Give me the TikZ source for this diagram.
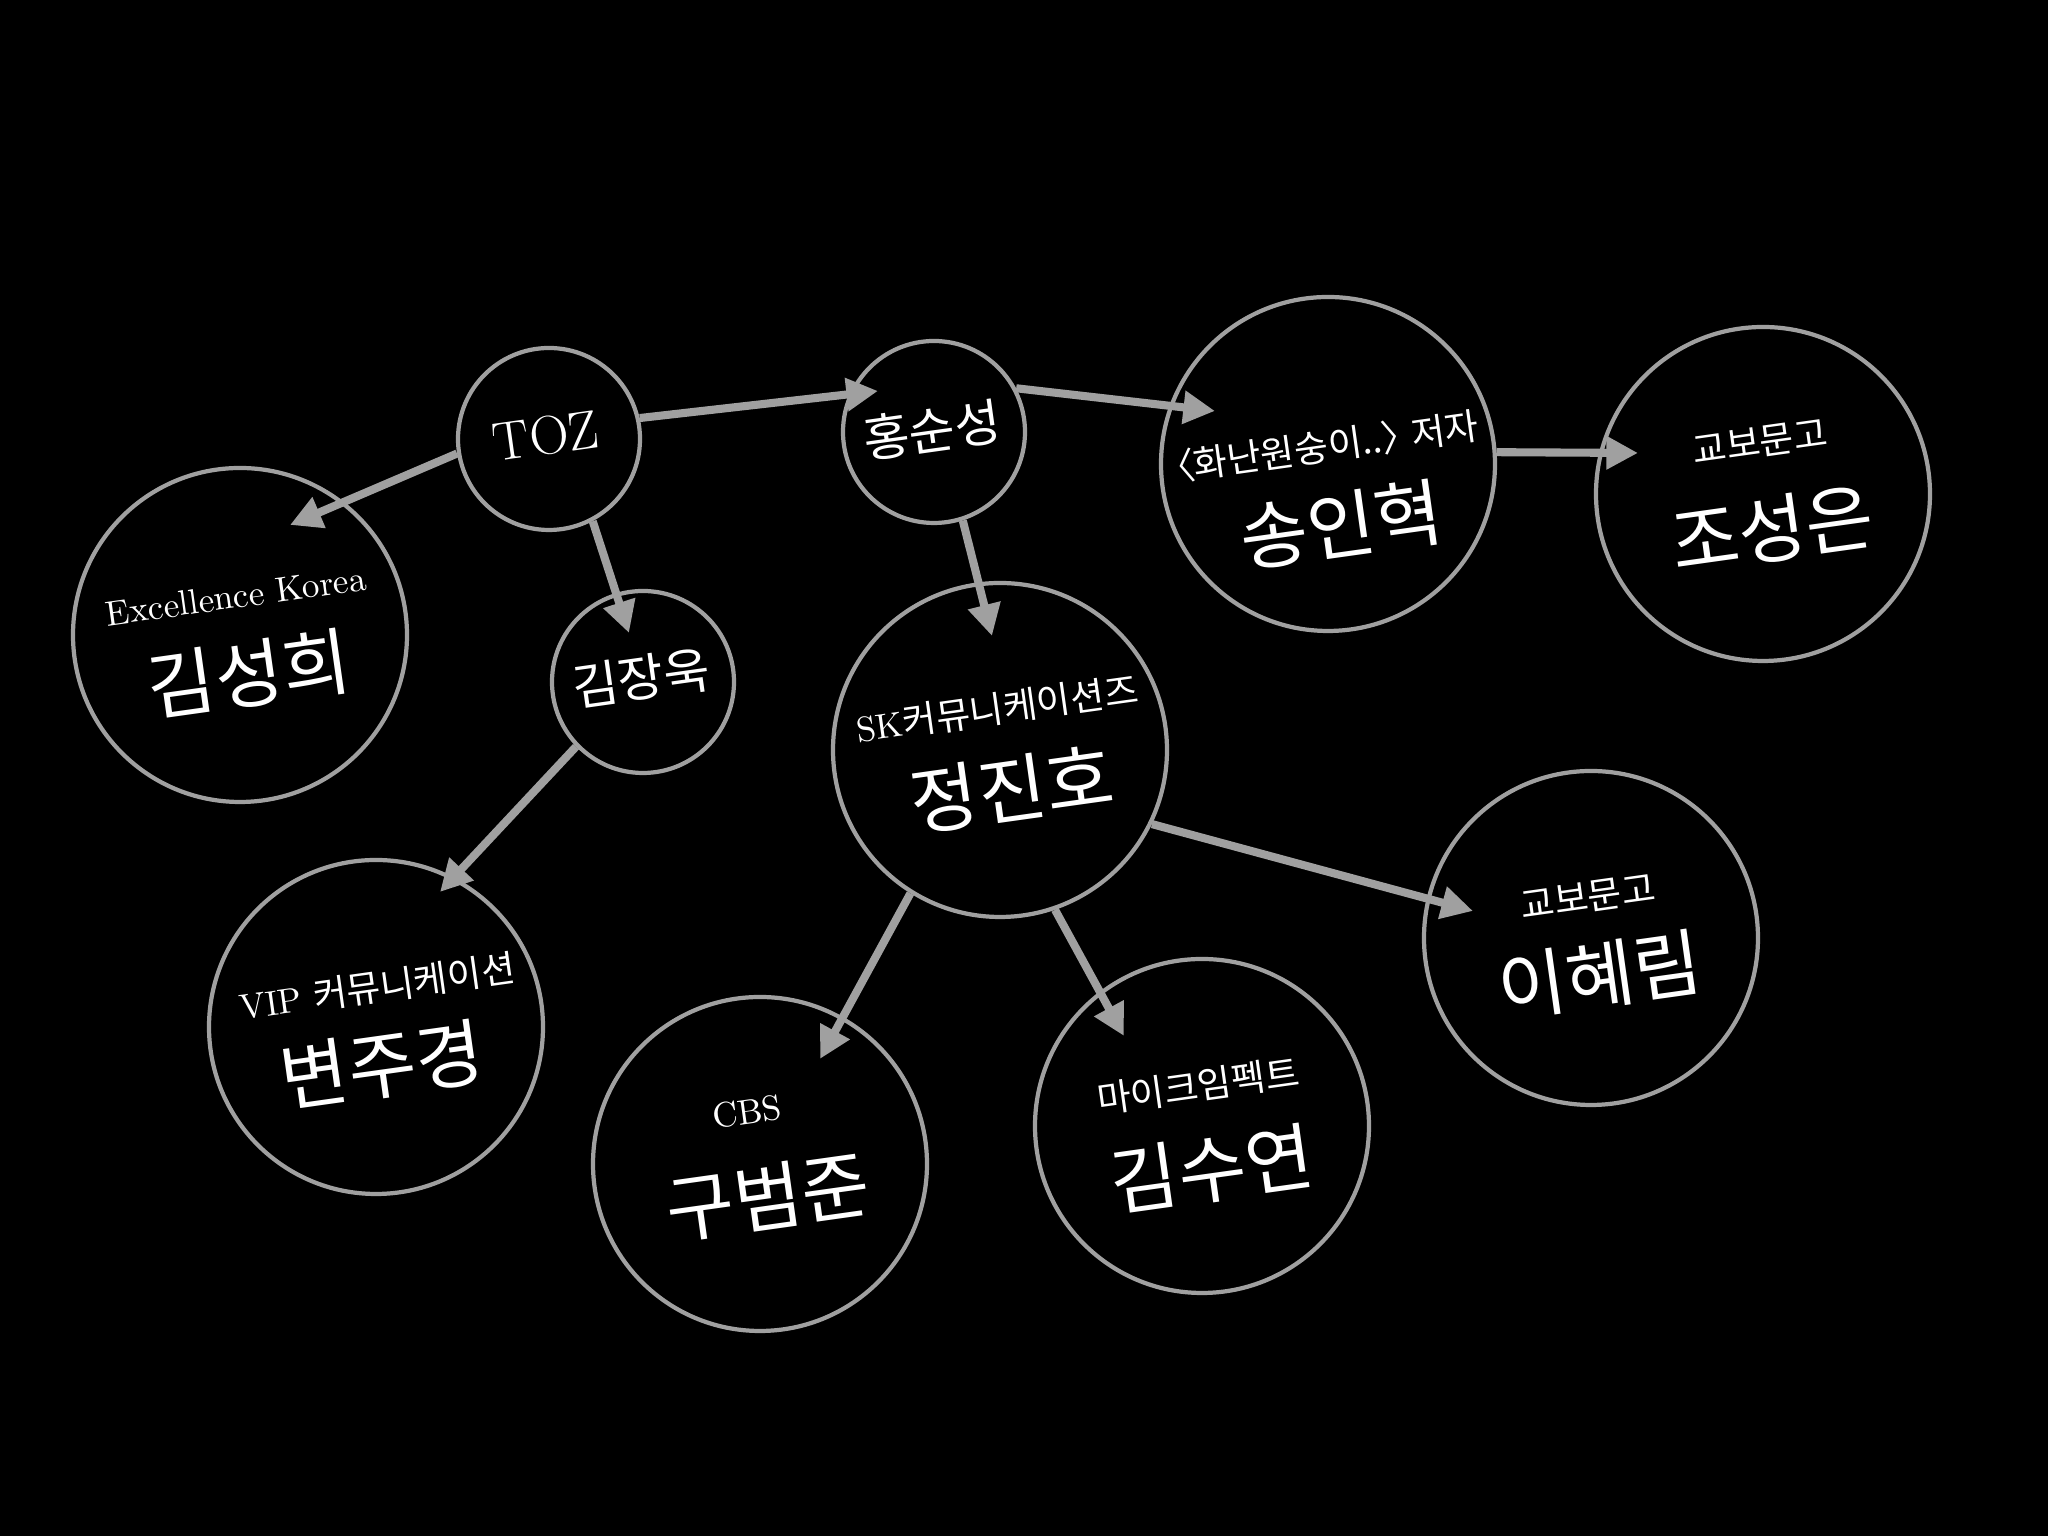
\documentclass[tikz,border=0pt]{standalone}
\usepackage{fontspec}
\newfontfamily\krfont[Scale=1.05]{Noto Sans CJK KR}
\usetikzlibrary{arrows.meta,calc}
\definecolor{ringgray}{RGB}{160,160,160}

\begin{document}
\begin{tikzpicture}
% ---------------------------------------------------------
% Dimensions (tweak freely)
% ---------------------------------------------------------
\def\PageW{20.48}    % picture width
\def\PageH{15.36}    % picture height
\def\BigD{3.34}      % diameter of the large circles
\def\SmallD{1.82}    % diameter of the small circles
\def\Tilt{8}         % all texts lean a bit upwards

% ---------------------------------------------------------
% Styles
% ---------------------------------------------------------
\tikzset{
  big person/.style={circle, draw=ringgray, fill=black, line width=1.2pt,
    minimum size=\BigD cm, inner sep=0pt},
  small person/.style={circle, draw=ringgray, fill=black, line width=1.2pt,
    minimum size=\SmallD cm, inner sep=0pt},
  link/.style={draw=ringgray, line width=2.3pt,
    -{Triangle[length=9pt, width=9pt]}},
  name text/.style={text=white, inner sep=0pt, rotate=\Tilt,
    font=\fontsize{20}{22}\selectfont\krfont},
  sub text/.style={text=white, inner sep=0pt, rotate=\Tilt,
    font=\fontsize{10}{12}\selectfont},
  small text/.style={text=white, inner sep=0pt, rotate=\Tilt,
    font=\fontsize{15.5}{17}\selectfont},
  small kr text/.style={small text, font=\fontsize{13.6}{15}\selectfont\krfont}
}

% =========================================================
% 1) BACKGROUND
% =========================================================
\useasboundingbox (0,0) rectangle (\PageW,\PageH);
\fill[black] (0,0) rectangle (\PageW,\PageH);

% =========================================================
% 2) CIRCLES
% =========================================================
\node[small person] (toz)   at (5.49, 10.97) {};
\node[small person] (hong)  at (9.34, 11.04) {};
\node[small person] (kimju) at (6.43, 8.54) {};

\node[big person] (song)  at (13.28, 10.72) {};
\node[big person] (cho)   at (17.63, 10.42) {};
\node[big person] (kimsh) at (2.40, 9.01) {};
\node[big person] (jung)  at (10.00, 7.86) {};
\node[big person] (byun)  at (3.76, 5.09) {};
\node[big person] (koo)   at (7.60, 3.72) {};
\node[big person] (kimsy) at (12.02, 4.10) {};
\node[big person] (lee)   at (15.91, 5.98) {};

% =========================================================
% 3) TEXTS
% =========================================================
\node[small text]    (toz-t)   at (5.46, 11.00) {TOZ};
\node[small kr text] (hong-t)  at (9.32, 11.06) {홍순성};
\node[small kr text] (kimju-t) at (6.41, 8.58) {김장욱};

\node[sub text]  (kimsh-s) at (2.36, 9.40) {Excellence Korea};
\node[name text] (kimsh-n) at (2.49, 8.62) {김성희};

% half-width brackets here (palt), as in the original
\node[sub text]  (song-s) at (13.27, 10.90)
  {\krfont\addfontfeature{RawFeature=+palt}〈화난원숭이..〉 저자};
\node[name text] (song-n) at (13.41, 10.11) {송인혁};

\node[sub text]  (cho-s) at (17.60, 10.94) {\krfont 교보문고};
\node[name text] (cho-n) at (17.72, 10.07) {조성은};

\node[sub text]  (jung-s) at (9.97, 8.27) {SK{\krfont 커뮤니케이션즈}};
\node[name text] (jung-n) at (10.12, 7.47) {정진호};

\node[sub text]  (byun-s) at (3.77, 5.49) {VIP {\krfont 커뮤니케이션}};
\node[name text] (byun-n) at (3.82, 4.71) {변주경};

\node[sub text]  (koo-s) at (7.47, 4.24) {CBS};
\node[name text] (koo-n) at (7.68, 3.39) {구범준};

\node[sub text]  (kimsy-s) at (11.98, 4.50) {\krfont 마이크임펙트};
\node[name text] (kimsy-n) at (12.12, 3.67) {김수연};

\node[sub text]  (lee-s) at (15.88, 6.39) {\krfont 교보문고};
\node[name text] (lee-n) at (16.00, 5.61) {이혜림};

% =========================================================
% 4) ARROWS (tips reach into the target circle)
% =========================================================
\draw[link] (toz.189)   -- ($(kimsh)+(0.50,1.10)$);
\draw[link] (toz.298)   -- ($(kimju)+(-0.14,0.49)$);
\draw[link] (toz.13)    -- ($(hong)+(-0.56,0.41)$);
\draw[link] (hong.28)   -- ($(song)+(-1.13,0.53)$);
\draw[link] (hong.288)  -- ($(jung)+(-0.08,1.14)$);
\draw[link] (song.4.5)  -- ($(cho)+(-1.25,0.41)$);
\draw[link] (kimju.224) -- ($(byun)+(0.64,1.35)$);
\draw[link] (jung.238)  -- ($(koo)+(0.60,1.05)$);
\draw[link] (jung.289)  -- ($(kimsy)+(-0.78,0.90)$);
\draw[link] (jung.334)  -- ($(lee)+(-1.18,0.27)$);

\end{tikzpicture}
\end{document}
